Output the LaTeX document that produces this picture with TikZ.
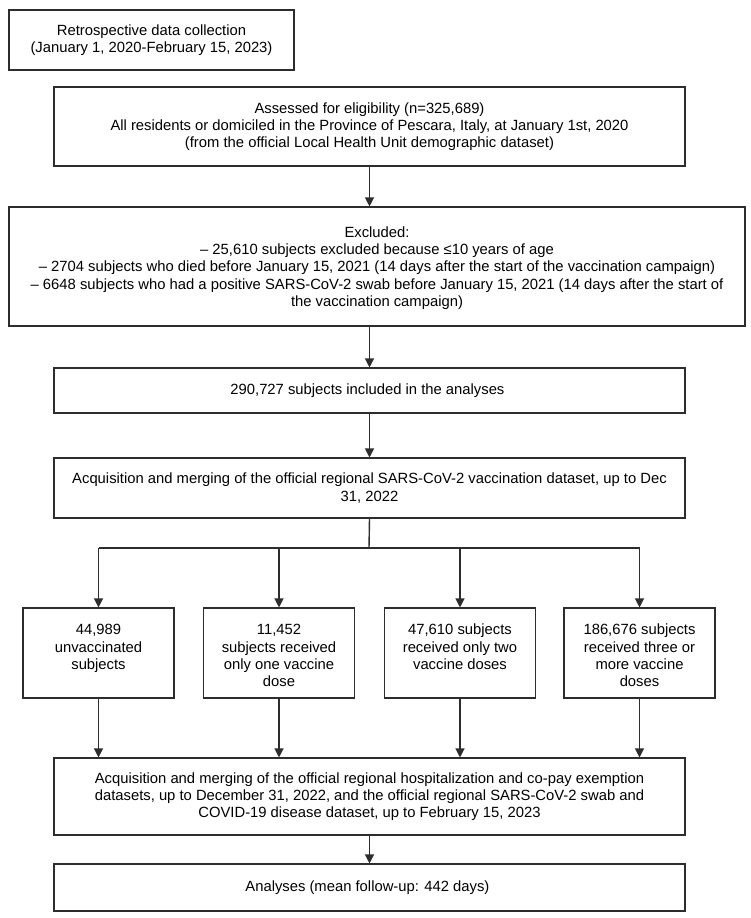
\documentclass[tikz,border=0pt]{standalone}
\definecolor{linegray}{RGB}{45, 45, 45}
\usepackage{fontspec}
\setmainfont{Liberation Sans}
\usepackage{tikz}
\usetikzlibrary{arrows.meta, positioning, calc}
\newcommand{\topgap}{\rule{0pt}{21pt}}
\newcommand{\smallgap}{\rule{0pt}{14pt}}

\begin{document}
\begin{tikzpicture}[x=1pt, y=-1pt,
    font=\fontsize{14.8}{17.3}\selectfont,
    flowbox/.style={draw=linegray, line width=1.1pt, align=center, inner sep=0pt, minimum width=631pt},
    armbox/.style={draw=linegray, line width=1.1pt, align=center, inner sep=0pt, minimum width=151pt, minimum height=90pt},
    flowarrow/.style={draw=linegray, line width=1.2pt, -{Triangle[length=9pt, width=9pt]}},
    flowline/.style={draw=linegray, line width=1.4pt}]
  \useasboundingbox (0,0) rectangle (750,918);

  \node[flowbox, minimum width=285pt, minimum height=60pt] (retro) at (151.5,40) {
    Retrospective data collection\\
    (January 1, 2020-February 15, 2023)
  };
  \node[flowbox, minimum height=79pt] (assess) at (369.5,126.5) {
    Assessed for eligibility (n=325,689)\\
    All residents or domiciled in the Province of Pescara, Italy, at January 1st, 2020\\
    (from the official Local Health Unit demographic dataset)
  };
  \node[flowbox, minimum width=736pt, minimum height=119pt] (excl) at (377,266.5) {
    \smallgap Excluded:\\
    – 25,610 subjects excluded because ≤10 years of age\\
    – 2704 subjects who died before January 15, 2021 (14 days after the start of the vaccination campaign)\\
    – 6648 subjects who had a positive SARS-CoV-2 swab before January 15, 2021 (14 days after the start of\\
    the vaccination campaign)
  };
  \node[flowbox, minimum height=45pt] (incl) at (369.5,390.5) {
    290,727 subjects included in the analyses
  };
  \node[flowbox, minimum height=60pt] (vacc) at (369.5,488) {
    Acquisition and merging of the official regional SARS-CoV-2 vaccination dataset, up to Dec\\
    31, 2022
  };
  \coordinate (split) at (369,548);

  \node[armbox] (unvax) at (98.5,653) {\topgap 44,989\\unvaccinated\\subjects\\\strut};
  \node[armbox] (onedose) at (279,653) {\topgap 11,452\\subjects received\\only one vaccine\\dose\strut};
  \node[armbox] (twodose) at (460,653) {\topgap 47,610 subjects\\received only two\\vaccine doses\\\strut};
  \node[armbox] (threedose) at (639.5,653) {\topgap 186,676 subjects\\received three or\\more vaccine\\doses\strut};

  \node[flowbox, minimum height=77pt] (merge) at (369.5,796.5) {
    Acquisition and merging of the official regional hospitalization and co-pay exemption\\
    datasets, up to December 31, 2022, and the official regional SARS-CoV-2 swab and\\
    COVID-19 disease dataset, up to February 15, 2023
  };
  \node[flowbox, minimum height=47pt] (analyses) at (369.5,887.5) {
    Analyses (mean follow-up: 442 days)
  };

  \draw[flowarrow] (assess.south) -- (assess.south |- excl.north);
  \draw[flowarrow] (incl.north |- excl.south) -- (incl.north);
  \draw[flowarrow] (incl.south) -- (vacc.north);
  \draw[flowline] (vacc.south) -- (split);
  \draw[flowline] (unvax.north |- split) -- (threedose.north |- split);
  \foreach \arm in {unvax, onedose, twodose, threedose} {
    \draw[flowarrow] (\arm.north |- split) -- (\arm.north);
    \draw[flowarrow] (\arm.south) -- (\arm.south |- merge.north);
  }
  \draw[flowarrow] (merge.south) -- (analyses.north);
\end{tikzpicture}
\end{document}
